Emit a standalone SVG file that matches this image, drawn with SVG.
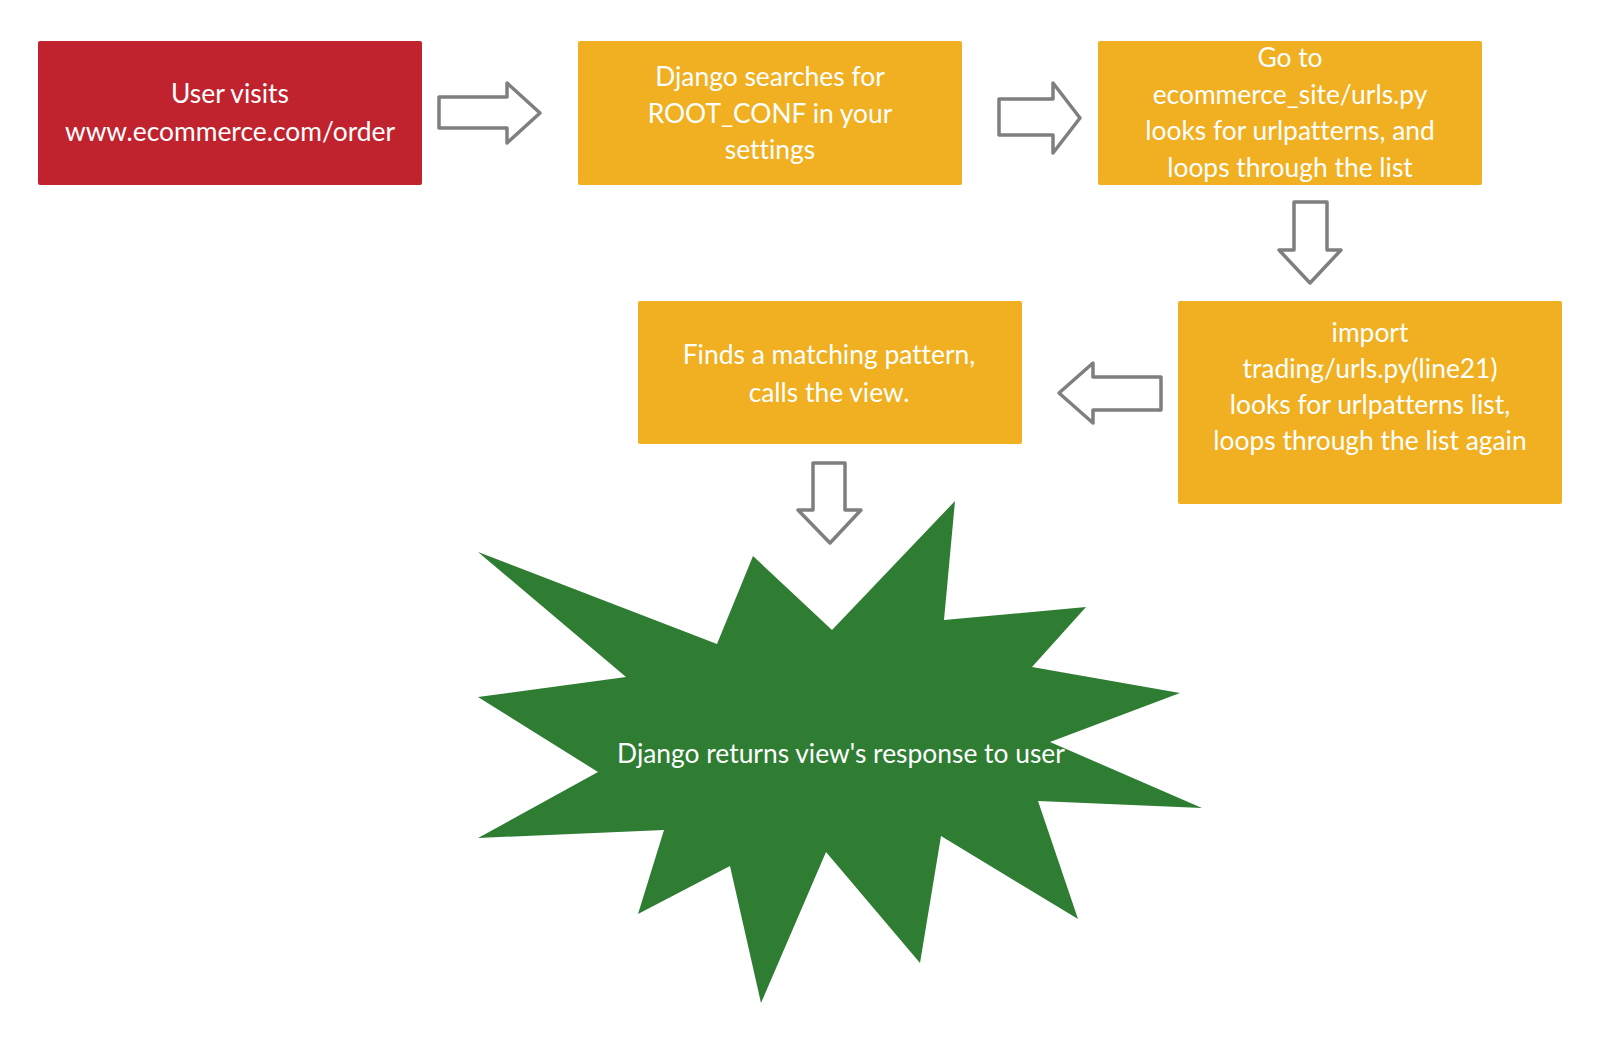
<svg xmlns="http://www.w3.org/2000/svg" width="1600" height="1043" viewBox="0 0 1600 1043">
<style>
.box{stroke:none}
.red{fill:#C1232E}
.orange{fill:#F0B021}
.green{fill:#2E7D33}
.t{font-family:Lato,"Open Sans","Liberation Sans",sans-serif;font-size:26.4px;fill:#FFFFFF;text-anchor:middle;font-variant-ligatures:none}
.arrow{fill:#FFFFFF;stroke:#7F7F7F;stroke-width:3.5;stroke-linejoin:round}
</style>
<rect width="1600" height="1043" fill="#FFFFFF"/>
<g id="node-user-visits">
<rect class="box red" x="38" y="41" width="384" height="144" rx="2"/>
<text class="t" x="230" y="103">User visits</text>
<text class="t" x="230" y="141">www.ecommerce.com/order</text>
</g>
<g id="node-django-searches">
<rect class="box orange" x="578" y="41" width="384" height="144" rx="2"/>
<text class="t" x="770" y="86">Django searches for</text>
<text class="t" x="770" y="123">ROOT_CONF in your</text>
<text class="t" x="770" y="159">settings</text>
</g>
<g id="node-go-to">
<rect class="box orange" x="1098" y="41" width="384" height="144" rx="2"/>
<text class="t" x="1290" y="67">Go to</text>
<text class="t" x="1290" y="104">ecommerce_site/urls.py</text>
<text class="t" x="1290" y="140">looks for urlpatterns, and</text>
<text class="t" x="1290" y="177">loops through the list</text>
</g>
<g id="node-import">
<rect class="box orange" x="1178" y="301" width="384" height="203" rx="2"/>
<text class="t" x="1370" y="342">import</text>
<text class="t" x="1370" y="378">trading/urls.py(line21)</text>
<text class="t" x="1370" y="414">looks for urlpatterns list,</text>
<text class="t" x="1370" y="450">loops through the list again</text>
</g>
<g id="node-finds">
<rect class="box orange" x="638" y="301" width="384" height="143" rx="2"/>
<text class="t" x="829" y="364">Finds a matching pattern,</text>
<text class="t" x="829" y="402">calls the view.</text>
</g>
<g id="node-returns">
<polygon class="green" points="478,552 717,644 753,556 832,630 955,501 944,620 1086,607 1032,667 1180,693 1050,742 1202,808 1038,801 1078,919 941,836 920,963 826,852 761,1003 730,866 638,914 664,830 478,838 598,772 478,697 626,677"/>
<text class="t" x="841" y="763">Django returns view's response to user</text>
</g>
<g id="connectors">
<polygon class="arrow" points="439,97 507,97 507,83 540,113 507,143 507,128 439,128"/>
<polygon class="arrow" points="999,99 1053,99 1053,83 1080,118 1053,153 1053,135 999,135"/>
<polygon class="arrow" points="1294,202 1327,202 1327,250 1341,250 1310,283 1279,250 1294,250"/>
<polygon class="arrow" points="1161,377 1093,377 1093,363 1059,393 1093,423 1093,410 1161,410"/>
<polygon class="arrow" points="813,463 845,463 845,510 861,510 830,543 798,510 813,510"/>
</g>
</svg>
